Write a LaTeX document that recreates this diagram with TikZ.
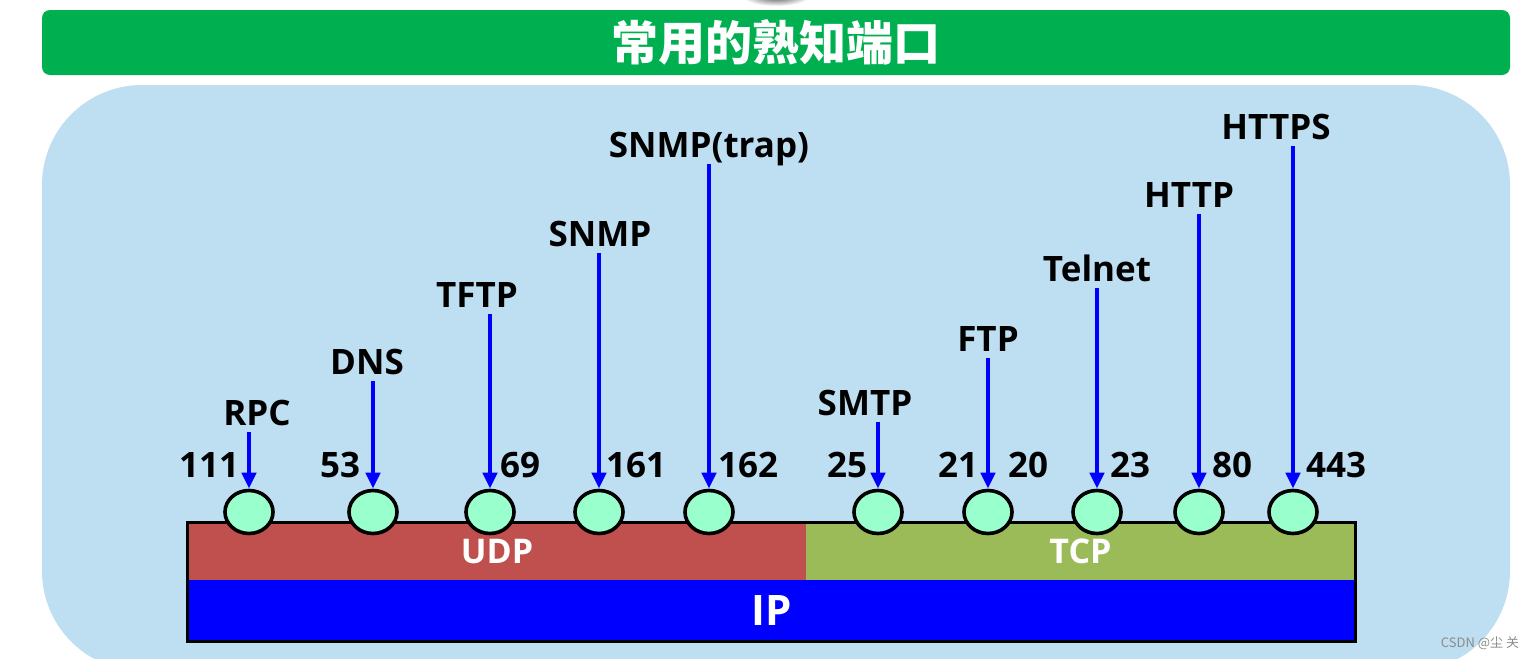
\documentclass[tikz,border=0pt]{standalone}
\usepackage{fontspec}
\setmainfont{Open Sans}
\newfontfamily\cjk{Noto Sans CJK SC}
\usetikzlibrary{arrows.meta,shapes.geometric}
\definecolor{panelblue}{RGB}{190,222,242}
\definecolor{titlegreen}{RGB}{0,176,80}
\definecolor{udpred}{RGB}{192,80,77}
\definecolor{tcpgreen}{RGB}{155,187,89}
\definecolor{ipblue}{RGB}{0,0,255}
\definecolor{mint}{RGB}{153,255,204}

\begin{document}
\begin{tikzpicture}[
  x=0.5pt, y=-0.5pt,
  port/.style={ellipse,draw,line width=1.8pt,fill=mint,minimum width=24pt,minimum height=21.5pt,inner sep=0pt},
  proto/.style={font=\bfseries\fontsize{17.5}{20}\selectfont,text height=0.75em,text depth=0.25em,inner sep=1pt,anchor=base},
  num/.style={font=\bfseries\fontsize{17.5}{20}\selectfont,inner sep=0pt,anchor=base},
  ptr/.style={draw=ipblue,line width=2pt,-{Triangle[width=7pt,length=8pt]}},
  layer/.style={text=white,inner sep=0pt,font=\bfseries\fontsize{17}{20}\selectfont}
]
  \useasboundingbox (0,0) rectangle (1539,659);
  \begin{scope}
    \clip (0,0) rectangle (1539,659);
    \shade[inner color=black!70,outer color=white] (776,-4) ellipse (34 and 10);
    \fill[panelblue,rounded corners=50pt] (42,85) rectangle (1510,671);
  \end{scope}

  \node[fill=titlegreen,rounded corners=4pt,minimum width=734pt,minimum height=32.5pt,inner sep=0pt,
        text=white,font=\cjk\bfseries\fontsize{23.5}{28}\selectfont] (title) at (776,42.5) {常用的熟知端口};

  \node[layer,fill=udpred,minimum width=309pt,minimum height=28.5pt] (udp) at (497,551.5) {UDP};
  \node[layer,fill=tcpgreen,minimum width=274.5pt,minimum height=28.5pt] (tcp) at (1080.5,551.5) {TCP};
  \node[layer,fill=ipblue,minimum width=583.5pt,minimum height=30.5pt,font=\bfseries\fontsize{21}{24}\selectfont] (ip) at (771.5,610.5) {IP};
  \draw[line width=1.5pt] (udp.north west) rectangle (ip.south east);

  \foreach \i/\x/\lx/\ly/\name in {1/249/257/425/RPC, 2/373/367/374/DNS, 3/490/477/307/TFTP,
      4/599/600/246/SNMP, 5/709/709/157/SNMP(trap), 6/878/865/415/SMTP, 7/988/988/351/FTP,
      8/1097/1097/281/Telnet, 9/1199/1189/207/HTTP, 10/1293/1276/139/HTTPS} {
    \node[port] (p\i) at (\x,512) {};
    \node[proto] (l\i) at (\lx,\ly) {\name};
    \draw[ptr] (l\i.south -| p\i.north) -- (p\i.north);
  }

  \foreach \i/\x/\n in {1/209/111, 2/340/53, 3/520/69, 4/636/161, 5/748/162, 6/847/25,
      7/958/21, 8/1028/20, 9/1130/23, 10/1232/80, 11/1336/443}
    \node[num] (n\i) at (\x,477) {\n};

  \node[text=black!45,inner sep=0pt,font=\cjk\fontsize{6.5}{8}\selectfont] (mark) at (1480,643) {CSDN @尘\ 关};
\end{tikzpicture}
\end{document}
